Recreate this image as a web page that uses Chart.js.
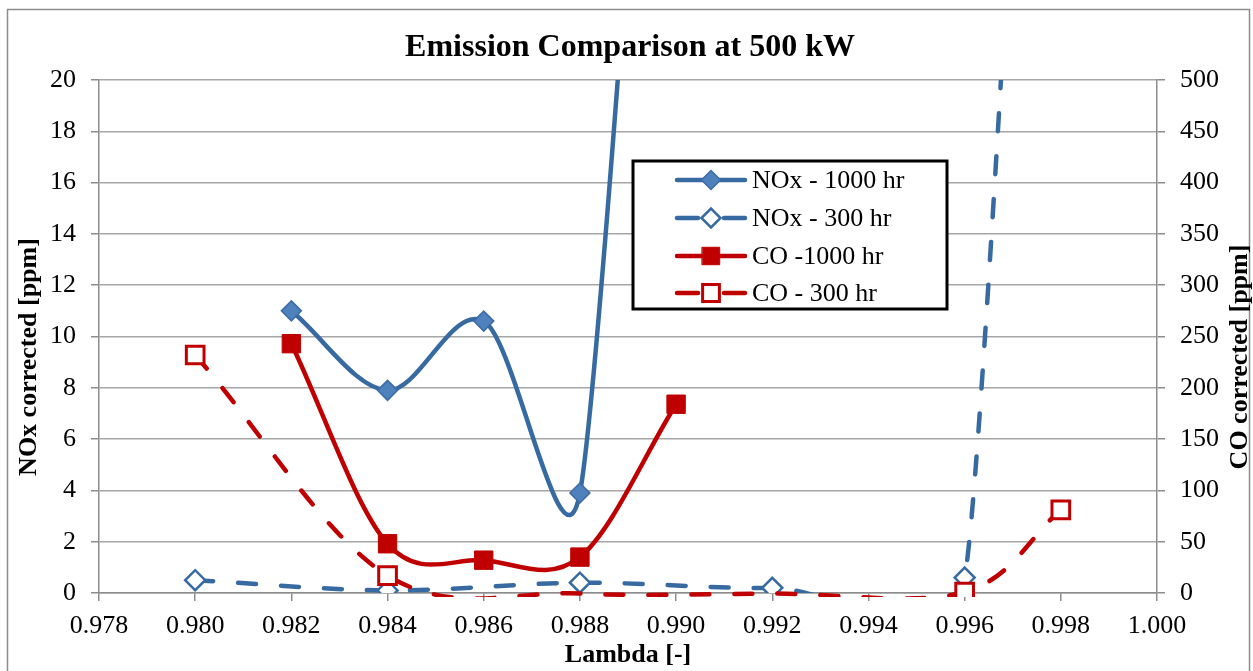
<!DOCTYPE html>
<html><head><meta charset="utf-8">
<script src="https://cdn.jsdelivr.net/npm/chart.js@4.4.1/dist/chart.umd.min.js"></script>
<style>html,body{margin:0;padding:0;background:#fff;}#wrap{width:1253px;height:671px;position:relative;}</style>
</head><body><div id="wrap"><canvas id="c" width="1253" height="671"></canvas></div>
<script>
// ---- data ----
const chartTitle = 'Emission Comparison at 500 kW';
const xTitle = 'Lambda [-]';
const yLeftTitle = 'NOx corrected [ppm]';
const yRightTitle = 'CO corrected [ppm]';

const xTicks = [0.978, 0.980, 0.982, 0.984, 0.986, 0.988, 0.990, 0.992, 0.994, 0.996, 0.998, 1.000];
const yLeftTicks = [0, 2, 4, 6, 8, 10, 12, 14, 16, 18, 20];
const yRightTicks = [0, 50, 100, 150, 200, 250, 300, 350, 400, 450, 500];

const seriesNames = ['NOx - 1000 hr', 'NOx - 300 hr', 'CO -1000 hr', 'CO - 300 hr'];

const nox1000Lambda = [0.982, 0.984, 0.986, 0.988, 0.990];
const nox1000Values = [11.0, 7.9, 10.6, 3.9, 50];

const nox300Lambda = [0.980, 0.984, 0.988, 0.992, 0.996, 0.998];
const nox300Values = [0.5, 0.1, 0.4, 0.2, 0.6, 60];

const co1000Lambda = [0.982, 0.984, 0.986, 0.988, 0.990];
const co1000Values = [243, 48, 32, 35, 184];

const co300Lambda = [0.980, 0.984, 0.988, 0.992, 0.996, 0.998];
const co300Values = [232, 17, -0.5, -0.5, 1, 81];

// ---- Excel-like smoothing (symmetric Bezier tangents, capped by neighbouring segment lengths) ----
(function () {
  const LE = (Chart.elements && Chart.elements.LineElement) || Chart.LineElement;
  if (!LE) return;
  LE.prototype.updateControlPoints = function () {
    const options = this.options;
    if (!options.tension || options.stepped || this._pointsUpdated) return;
    const p = this._points;
    const n = p.length;
    const dist = (a, b) => Math.hypot(b.x - a.x, b.y - a.y);
    for (let i = 0; i < n; i++) {
      const cur = p[i];
      if (n < 2) { cur.cp1x = cur.cp2x = cur.x; cur.cp1y = cur.cp2y = cur.y; continue; }
      if (i === 0 || i === n - 1) {
        const nb = i === 0 ? p[1] : p[n - 2];
        const dx = (nb.x - cur.x) / 3, dy = (nb.y - cur.y) / 3;
        cur.cp1x = cur.cp2x = cur.x + dx; cur.cp1y = cur.cp2y = cur.y + dy;
        continue;
      }
      const prev = p[i - 1], next = p[i + 1];
      const d01 = dist(prev, cur), d12 = dist(cur, next), d02 = dist(prev, next) || 1;
      const f = Math.min(1 / 6, d01 / (2 * d02), d12 / (2 * d02));
      const tx = (next.x - prev.x) * f, ty = (next.y - prev.y) * f;
      cur.cp1x = cur.x - tx; cur.cp1y = cur.y - ty;
      cur.cp2x = cur.x + tx; cur.cp2y = cur.y + ty;
    }
    this._pointsUpdated = true;
  };
})();

// ---- helpers ----
const pts = (xs, ys) => xs.map((x, i) => ({x: x, y: ys[i]}));
const BLUE = '#386AA2';
const BLUE_FILL = '#4F81BD';
const RED = '#C00000';
const SERIF = '"Liberation Serif", "Times New Roman", serif';
const GRID = '#A6A6A6';
const AXIS = '#8C8C8C';
// Excel does not draw markers for values outside the axis range
const markerSize = (r, minY) => (c => (c.raw && c.raw.y < minY) ? 0 : r);

const datasets = [
  {label: seriesNames[0], data: pts(nox1000Lambda, nox1000Values), yAxisID: 'yL', order: 4,
   borderColor: BLUE, borderWidth: 4.5, tension: 0.4,
   pointStyle: 'rectRot', pointRadius: 10, pointBackgroundColor: BLUE_FILL, pointBorderColor: '#3C6BA5', pointBorderWidth: 1.5,
   dashed: false},
  {label: seriesNames[1], data: pts(nox300Lambda, nox300Values), yAxisID: 'yL', order: 3,
   borderColor: BLUE, borderWidth: 4.5, tension: 0.4, borderDash: [18, 25], borderCapStyle: 'round',
   pointStyle: 'rectRot', pointRadius: 10, pointBackgroundColor: '#FFFFFF', pointBorderColor: BLUE, pointBorderWidth: 2.5,
   dashed: true},
  {label: seriesNames[2], data: pts(co1000Lambda, co1000Values), yAxisID: 'yR', order: 2,
   borderColor: RED, borderWidth: 4.5, tension: 0.4,
   pointStyle: 'rect', pointRadius: 13, pointBackgroundColor: RED, pointBorderColor: RED, pointBorderWidth: 1,
   dashed: false},
  {label: seriesNames[3], data: pts(co300Lambda, co300Values), yAxisID: 'yR', order: 1,
   borderColor: RED, borderWidth: 4.5, tension: 0.4, borderDash: [18, 25], borderCapStyle: 'round',
   clip: {left: 3, top: 3, right: 3, bottom: 4},
   pointStyle: 'rect', pointRadius: markerSize(12.5, yRightTicks[0]), pointBackgroundColor: '#FFFFFF', pointBorderColor: RED, pointBorderWidth: 3,
   legendRadius: 12.5, dashed: true}
];

const decor = {
  id: 'decor',
  beforeDraw(chart) {
    const ctx = chart.ctx;
    ctx.save();
    ctx.fillStyle = '#FFFFFF';
    ctx.fillRect(0, 0, chart.width, chart.height);
    ctx.strokeStyle = '#8C8C8C';
    ctx.lineWidth = 1.5;
    ctx.strokeRect(7.5, 9.5, 1242, 700);
    ctx.restore();
  },
  afterDraw(chart) {
    const ctx = chart.ctx;
    ctx.save();
    ctx.fillStyle = '#000';
    ctx.textAlign = 'center';
    ctx.textBaseline = 'middle';
    ctx.font = 'bold 32px ' + SERIF;
    ctx.fillText(chartTitle, 630, 48);
    ctx.font = 'bold 26px ' + SERIF;
    ctx.save(); ctx.translate(29, 357); ctx.rotate(-Math.PI / 2); ctx.fillText(yLeftTitle, 0, 0); ctx.restore();
    ctx.save(); ctx.translate(1240, 357); ctx.rotate(-Math.PI / 2); ctx.fillText(yRightTitle, 0, 0); ctx.restore();

    // legend box
    const bx = 633, by = 161, bw = 314, bh = 148;
    ctx.fillStyle = '#FFFFFF';
    ctx.fillRect(bx, by, bw, bh);
    ctx.strokeStyle = '#000';
    ctx.lineWidth = 3;
    ctx.strokeRect(bx, by, bw, bh);
    const rows = [180, 218, 256, 293];
    const legendOrder = [0, 1, 2, 3];
    legendOrder.forEach((di, k) => {
      const ds = chart.data.datasets[di];
      const y = rows[k];
      ctx.save();
      ctx.strokeStyle = ds.borderColor;
      ctx.lineWidth = ds.borderWidth;
      ctx.lineCap = 'round';
      ctx.beginPath();
      if (ds.dashed) {
        ctx.moveTo(677, y); ctx.lineTo(698, y);
        ctx.moveTo(724, y); ctx.lineTo(745, y);
      } else {
        ctx.moveTo(677, y); ctx.lineTo(745, y);
      }
      ctx.stroke();
      ctx.fillStyle = ds.pointBackgroundColor;
      ctx.strokeStyle = ds.pointBorderColor;
      ctx.lineWidth = ds.pointBorderWidth;
      const baseR = typeof ds.pointRadius === 'number' ? ds.pointRadius : ds.legendRadius;
      Chart.helpers.drawPoint(ctx, {pointStyle: ds.pointStyle, radius: baseR * 0.95, rotation: 0, borderWidth: ds.pointBorderWidth}, 711, y);
      ctx.restore();
      ctx.fillStyle = '#000';
      ctx.textAlign = 'left';
      ctx.textBaseline = 'middle';
      ctx.font = '26px ' + SERIF;
      ctx.fillText(ds.label, 752, y + 1);
    });
    ctx.restore();
  }
};

const tickFont = {family: SERIF, size: 26};

new Chart(document.getElementById('c'), {
  type: 'line',
  data: {datasets: datasets},
  plugins: [decor],
  options: {
    responsive: false,
    animation: false,
    devicePixelRatio: 1,
    layout: {padding: {top: 80, left: 0, right: 0, bottom: 0}},
    plugins: {legend: {display: false}, title: {display: false}, tooltip: {enabled: false}},
    scales: {
      x: {
        type: 'linear', position: 'bottom', min: xTicks[0], max: xTicks[xTicks.length - 1],
        afterBuildTicks: s => { s.ticks = xTicks.map(v => ({value: v})); },
        afterFit: s => { s.height = 78; },
        ticks: {font: tickFont, color: '#000', padding: 10, maxRotation: 0, autoSkip: false,
                callback: v => Number(v).toFixed(3)},
        grid: {drawOnChartArea: false, drawTicks: true, tickLength: 8, color: AXIS, lineWidth: 1.5},
        border: {display: true, color: AXIS, width: 1.5},
        title: {display: true, text: xTitle, color: '#000', font: {family: SERIF, size: 26, weight: 'bold'}, padding: {top: 0, bottom: 0}}
      },
      yL: {
        type: 'linear', position: 'left', min: yLeftTicks[0], max: yLeftTicks[yLeftTicks.length - 1],
        afterBuildTicks: s => { s.ticks = yLeftTicks.map(v => ({value: v})); },
        afterFit: s => { s.width = 99; },
        ticks: {font: tickFont, color: '#000', padding: 15},
        grid: {color: GRID, lineWidth: 1.5, tickLength: 8, tickColor: AXIS},
        border: {display: true, color: AXIS, width: 1.5}
      },
      yR: {
        type: 'linear', position: 'right', min: yRightTicks[0], max: yRightTicks[yRightTicks.length - 1],
        afterBuildTicks: s => { s.ticks = yRightTicks.map(v => ({value: v})); },
        afterFit: s => { s.width = 96; },
        ticks: {font: tickFont, color: '#000', padding: 15},
        grid: {drawOnChartArea: false, tickLength: 8, color: AXIS, lineWidth: 1.5},
        border: {display: true, color: AXIS, width: 1.5}
      }
    }
  }
});
</script></body></html>
